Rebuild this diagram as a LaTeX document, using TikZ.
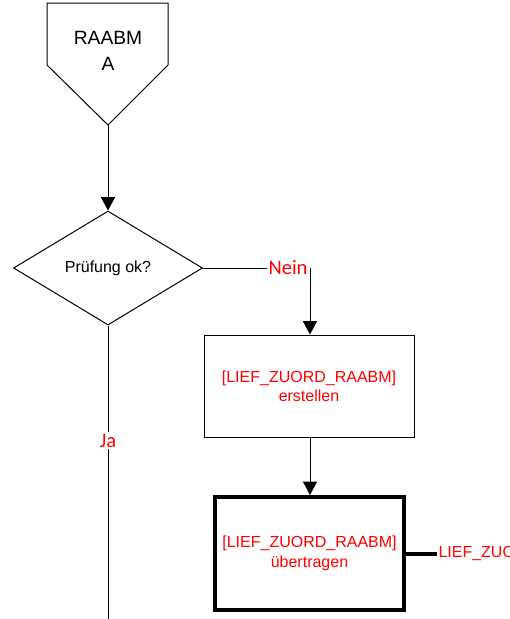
\documentclass[tikz,border=0pt]{standalone}
\usepackage{fontspec}
\setmainfont{Liberation Sans}
\newfontfamily\calfont{Carlito}
\usetikzlibrary{arrows.meta,shapes.geometric}

\begin{document}
\begin{tikzpicture}[x=0.75pt,y=-0.75pt,line width=0.75pt,
    box/.style = {draw, align=center, text=red, inner sep=0pt,
        font=\fontsize{12}{14.4}\selectfont},
    lbl/.style = {fill=white, text=red, inner sep=1.5pt,
        font=\calfont\fontsize{15.4}{18}\selectfont},
    arr/.style = {-{Triangle[length=10pt,width=10.5pt]}}]
\clip (0,0) rectangle (510,619);
% off-page connector
\draw (47,3) -- (168,3) -- (168,65) -- (108,125) -- (47,65) -- cycle;
\node[align=center, font=\fontsize{14.4}{20}\selectfont] (raabm) at (108,51) {RAABM\\A};
\coordinate (raabmtip) at (108,125);
% decision
\node[draw, diamond, aspect=1.66, inner sep=0pt, minimum width=141.75pt,
    minimum height=85.5pt, font=\fontsize{12}{14.4}\selectfont] (check) at (108,268) {Prüfung ok?};
\node[box, minimum width=157.5pt, minimum height=76.5pt] (erstellen) at (309,386)
    {[LIEF\_ZUORD\_RAABM]\\erstellen};
\node[box, line width=3pt, minimum width=141.75pt, minimum height=84.75pt,
    font=\fontsize{12}{15}\selectfont] (uebertragen) at (309.5,553.5)
    {[LIEF\_ZUORD\_RAABM]\\übertragen};
\node[anchor=west, text=red, inner sep=0.75pt, font=\fontsize{12}{14.4}\selectfont] (zuord) at (437,553.5)
    {LIEF\_ZUORD\_RAABM};
\coordinate (jaend) at (108,630);
% connectors
\draw[arr] (raabmtip) -- (check.north);
\draw[arr] (check.east) -| node[lbl, anchor=east, pos=0.5] {Nein} (erstellen.north -| 310,0);
\draw[arr] (erstellen.south -| 310,0) -- (uebertragen.north -| 310,0);
\draw[line width=3pt] (uebertragen.east) -- (zuord.west);
\draw (check.south) -- node[lbl, pos=0.378] {Ja} (jaend);
\end{tikzpicture}
\end{document}
